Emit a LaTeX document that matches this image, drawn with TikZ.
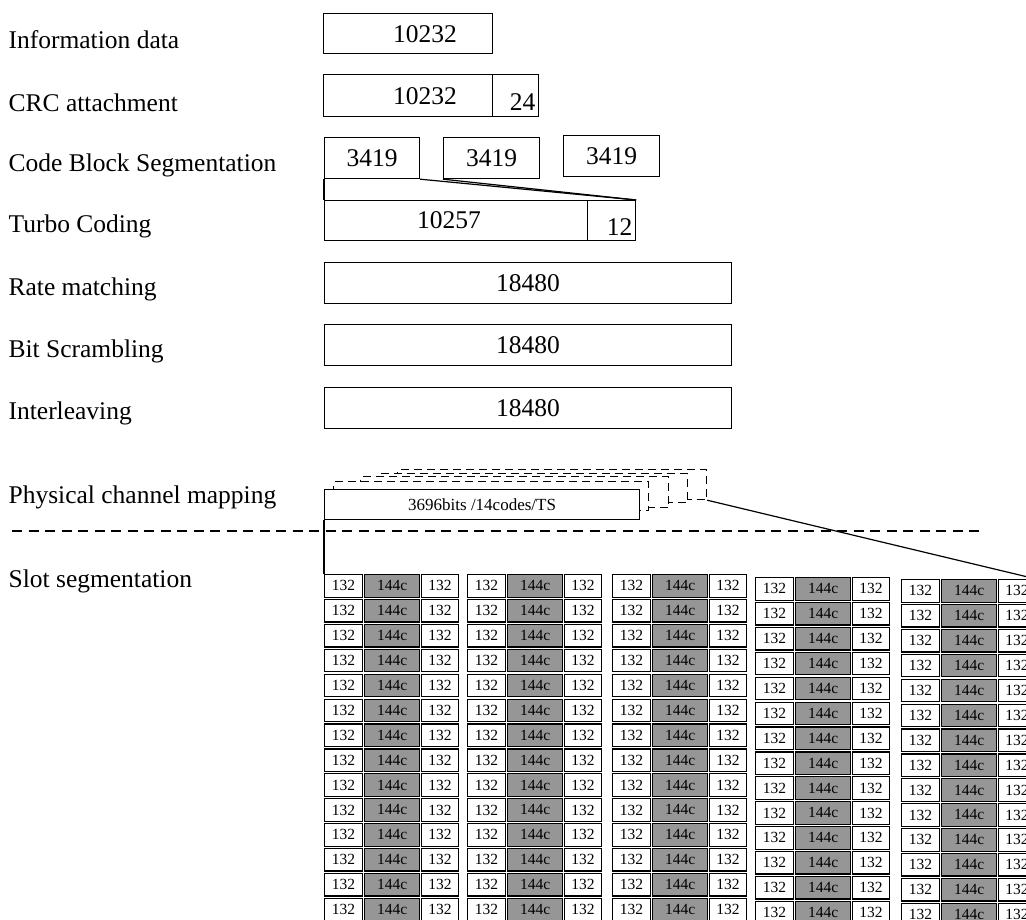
\documentclass[tikz,border=0pt]{standalone}
\usepackage{fontspec}
\setmainfont{Liberation Serif}
\definecolor{cellgray}{RGB}{150,150,150}
\begin{document}
\begin{tikzpicture}[x=1pt,y=-1pt,line width=1.2pt,
  box/.style={draw,fill=white,inner sep=0pt,anchor=north west,font=\fontsize{25.5}{26}\selectfont},
  txt/.style={inner sep=0pt,font=\fontsize{25.5}{26}\selectfont},
  lab/.style={inner sep=0pt,anchor=base west,font=\fontsize{25.5}{26}\selectfont},
  cellw/.style={draw,fill=white,inner sep=0pt,anchor=north west,minimum height=22.5pt,font=\fontsize{15.5}{16}\selectfont},
  cellg/.style={cellw,fill=cellgray},
  dbox/.style={draw,fill=white,dash pattern=on 8pt off 5pt,inner sep=0pt,anchor=north west}
]
\useasboundingbox (0,0) rectangle (1026,920);
\clip (0,0) rectangle (1026,920);

% labels
\node[lab] (l1) at (8,49) {Information data};
\node[lab] (l2) at (8,112) {CRC attachment};
\node[lab] (l3) at (8,172) {Code Block Segmentation};
\node[lab] (l4) at (8,233) {Turbo Coding};
\node[lab] (l5) at (8,295) {Rate matching};
\node[lab] (l6) at (8,357) {Bit Scrambling};
\node[lab] (l7) at (8,419) {Interleaving};
\node[lab] (l8) at (8,503) {Physical channel mapping};
\node[lab] (l9) at (8,587) {Slot segmentation};

% information data
\node[box,minimum width=169pt,minimum height=40pt] (info) at (323,13) {};
\node[txt] (infot) at (425,34) {10232};
% CRC
\node[box,minimum width=169pt,minimum height=42pt] (crc) at (323,74) {};
\node[box,minimum width=46pt,minimum height=42pt] (crc24) at (492,74) {};
\node[txt] (crct) at (425,96) {10232};
\node[txt,anchor=base east] (crc24t) at (536,111) {24};
% code blocks
\node[box,minimum width=95pt,minimum height=41pt] (cb1) at (324,137) {3419};
\node[box,minimum width=96pt,minimum height=41pt] (cb2) at (443,137) {3419};
\node[box,minimum width=96pt,minimum height=41pt] (cb3) at (563,135) {3419};
% turbo
\node[box,minimum width=263pt,minimum height=40pt] (turbo) at (324,200) {};
\node[txt] (turbot) at (449,220) {10257};
\node[box,minimum width=48pt,minimum height=40pt] (t12) at (587,200) {};
\node[txt,anchor=base east] (t12t) at (633,236) {12};
\draw (cb1.south east) -- (t12.north east);
\draw (cb2.south west) -- (t12.north east);
\draw (cb1.south west) -- (turbo.north west);
% rate, scrambling, interleaving
\node[box,minimum width=407pt,minimum height=41pt] (rate) at (324,262) {18480};
\node[box,minimum width=407pt,minimum height=41pt] (bits) at (324,324) {18480};
\node[box,minimum width=407pt,minimum height=41pt] (intl) at (324,387) {18480};

% physical channel mapping
\node[dbox,minimum width=309pt,minimum height=30pt] (d4) at (397,469) {};
\node[dbox,minimum width=309pt,minimum height=29pt] (d3) at (378,473) {};
\node[dbox,minimum width=308pt,minimum height=31pt] (d2) at (360,476) {};
\node[dbox,minimum width=315pt,minimum height=29pt] (d1) at (333,481) {};
\node[box,minimum width=315pt,minimum height=30pt,font=\fontsize{17}{18}\selectfont] (pc) at (324,489) {3696bits /14codes/TS};

% separator
\coordinate (s1) at (12,531);
\coordinate (s2) at (982,531);
\draw[dash pattern=on 10pt off 6.5pt] (s1) -- (s2);

% slot grid
\foreach \g/\gx/\gy in {1/324/574,2/467/574,3/612/574,4/755/577,5/901/579}{
  \foreach \r in {1,...,14}{
    \pgfmathsetmacro\yy{\gy+(\r-1)*24.9}
    \node[cellw,minimum width=38pt] (g\g-\r-a) at (\gx,\yy) {132};
    \node[cellg,minimum width=55pt] (g\g-\r-b) at (\gx+40,\yy) {144c};
    \node[cellw,minimum width=37pt] (g\g-\r-c) at (\gx+97,\yy) {132};
  }
}
\draw (pc.south west) -- (g1-1-a.north west);
\draw (d4.south east) -- (g5-1-c.north east);
\end{tikzpicture}
\end{document}
